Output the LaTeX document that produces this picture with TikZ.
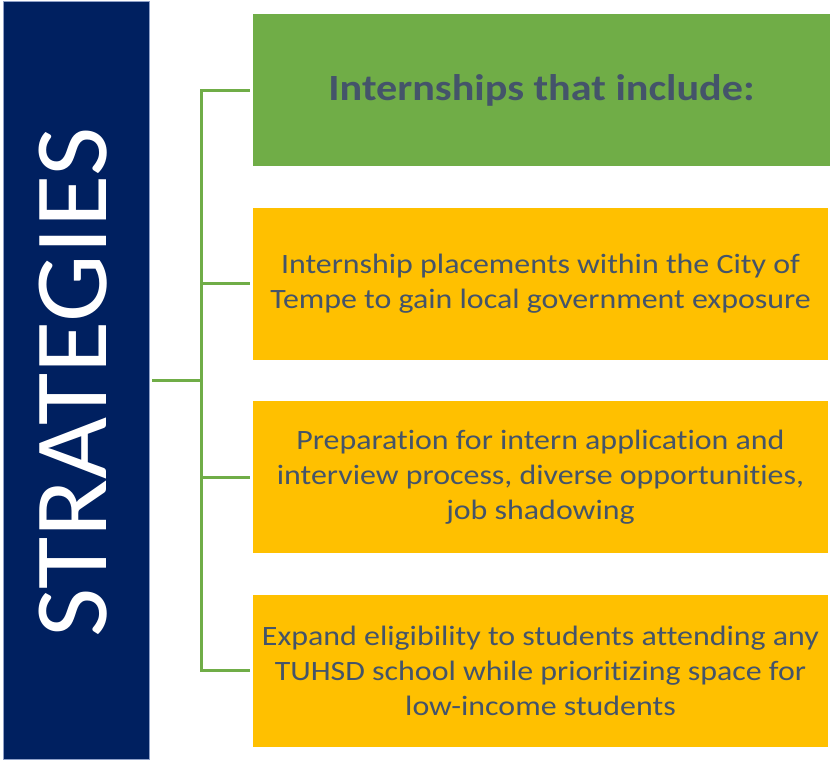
\documentclass[tikz,border=0pt]{standalone}
\usepackage{fontspec}
\setmainfont[Ligatures=NoCommon, FakeStretch=1.14]{Carlito}
\newfontfamily\bigfont[Ligatures=NoCommon, FakeStretch=1.03]{Carlito}
\definecolor{navy}{RGB}{0,32,96}
\definecolor{navyedge}{RGB}{143,160,200}
\definecolor{leaf}{RGB}{112,173,71}
\definecolor{gold}{RGB}{255,192,0}
\definecolor{slate}{RGB}{68,84,106}
\tikzset{
  panel/.style={inner sep=0pt, minimum width=575pt, minimum height=152pt, align=center, text=slate},
  yellowbox/.style={panel, fill=gold, font=\fontsize{28}{35}\selectfont},
  greenbox/.style={panel, fill=leaf, minimum width=577pt, font=\fontsize{37}{44}\selectfont\bfseries},
  conn/.style={draw=leaf, line width=3pt}
}
\begin{document}
\begin{tikzpicture}[x=1pt,y=-1pt]
\useasboundingbox (0,0) rectangle (836,761);
\node[fill=navy, draw=navyedge, line width=0.8pt, minimum width=146pt, minimum height=758pt, inner sep=0pt] (bar) at (76,380) {};
\node[text=white, rotate=90, font=\bigfont\fontsize{104}{104}\selectfont, inner sep=0pt] (title) at (73.5,382.5) {STRATEGIES};
\node[greenbox] (g) at (541.5,90) {Internships that include:};
\node[yellowbox] (y1) at (540.5,283.5) {Internship placements within the City of\\Tempe to gain local government exposure};
\node[yellowbox] (y2) at (540.5,477) {Preparation for intern application and\\interview process, diverse opportunities,\\job shadowing};
\node[yellowbox] (y3) at (540.5,670.5) {Expand eligibility to students attending any\\TUHSD school while prioritizing space for\\low-income students};
\coordinate (trunk) at (201.5,380);
\draw[conn] ([xshift=3pt]bar.east) -- (trunk);
\draw[conn] (trunk) |- ([xshift=-3pt]g.west);
\draw[conn] (trunk) |- ([xshift=-3pt]y1.west);
\draw[conn] (trunk) |- ([xshift=-3pt]y2.west);
\draw[conn] (trunk) |- ([xshift=-3pt]y3.west);
\end{tikzpicture}
\end{document}
